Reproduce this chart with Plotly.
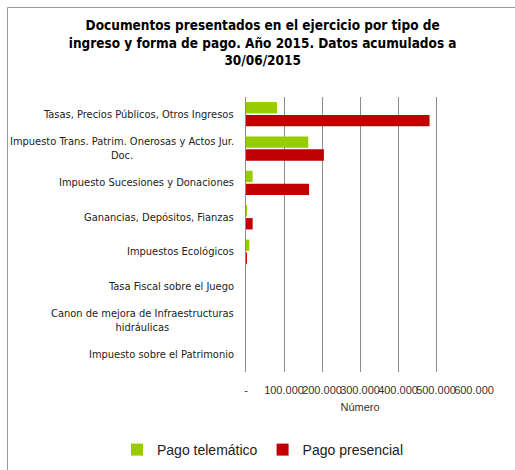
import plotly.graph_objects as go

categories = [
    "Tasas, Precios Públicos, Otros Ingresos",
    "Impuesto Trans. Patrim. Onerosas y Actos Jur.<br>Doc.",
    "Impuesto Sucesiones y Donaciones",
    "Ganancias, Depósitos, Fianzas",
    "Impuestos Ecológicos",
    "Tasa Fiscal sobre el Juego",
    "Canon de mejora de Infraestructuras<br>hidráulicas",
    "Impuesto sobre el Patrimonio",
]
pago_telematico = [81600, 164000, 17500, 2600, 8700, 0, 0, 0]
pago_presencial = [483000, 205000, 166000, 17500, 2600, 0, 0, 0]
tick_vals = [0, 100000, 200000, 300000, 400000, 500000, 600000]
tick_text = ["-", "100.000", "200.000", "300.000", "400.000", "500.000", "600.000"]

W, H = 515, 470
ML, MR, MT, MB = 246, 41, 97, 98
PW, PH = W - ML - MR, H - MT - MB

NARROW = "DejaVu Sans Condensed, Liberation Sans Narrow, Roboto, sans-serif"
PLAIN = "Liberation Sans, Arial, sans-serif"

fig = go.Figure()
fig.add_trace(go.Bar(
    y=categories, x=pago_telematico, orientation="h", name="Pago telemático",
    marker=dict(color="#99CC00", line=dict(width=0)),
))
fig.add_trace(go.Bar(
    y=categories, x=pago_presencial, orientation="h", name="Pago presencial",
    marker=dict(color="#C00000", line=dict(width=0)),
))

# category labels as centered multi-line annotations
for c in categories:
    fig.add_annotation(
        x=0, xref="paper", y=c, yref="y", text=c, showarrow=False,
        xanchor="right", xshift=-10, align="center",
        font=dict(family=NARROW, size=11, color="#222222"),
    )

# outer chart border (top and left edges visible)
bx0 = (7.5 - ML) / PW
by1 = 1 + (MT - 7.5) / PH
fig.add_shape(type="line", xref="paper", yref="paper", x0=bx0, x1=(W + 20 - ML) / PW,
              y0=by1, y1=by1, line=dict(color="#9a9a9a", width=1))
fig.add_shape(type="line", xref="paper", yref="paper", x0=bx0, x1=bx0,
              y0=by1, y1=-(MB + 20) / PH, line=dict(color="#9a9a9a", width=1))

fig.update_layout(
    width=W, height=H,
    margin=dict(l=ML, r=MR, t=MT, b=MB, autoexpand=False),
    paper_bgcolor="white", plot_bgcolor="white",
    barmode="group", bargap=0.25, bargroupgap=0.12,
    title=dict(
        text="<b>Documentos presentados en el ejercicio por tipo de<br>ingreso y forma de pago. Año 2015. Datos acumulados a<br>30/06/2015</b>",
        x=0.51, xref="container", xanchor="center",
        y=1 - 30 / H, yref="container", yanchor="top",
        font=dict(family=NARROW, size=13.5, color="black"),
    ),
    xaxis=dict(
        range=[0, 600000], tickvals=tick_vals, ticktext=tick_text, tickangle=0,
        showgrid=True, gridcolor="#8c8c8c", gridwidth=1, zeroline=False,
        showline=False, ticks="", ticklabelstandoff=10, automargin=False,
        tickfont=dict(family=PLAIN, size=11, color="#333333"),
        title=dict(text="Número", standoff=8,
                   font=dict(family=PLAIN, size=11, color="#333333")),
    ),
    yaxis=dict(
        autorange="reversed", showticklabels=False, showgrid=False, automargin=False,
        showline=True, linecolor="#8c8c8c", linewidth=1, ticks="",
    ),
    legend=dict(
        orientation="h", xref="paper", x=(117 - ML) / PW, xanchor="left",
        yref="paper", y=-(450 - (H - MB)) / PH, yanchor="middle",
        font=dict(family=PLAIN, size=14, color="#222222"),
        itemwidth=30, traceorder="normal",
    ),
    showlegend=True,
)

fig.write_html("out.html", config={"displayModeBar": False},
               post_script="document.body.style.margin='0';")
